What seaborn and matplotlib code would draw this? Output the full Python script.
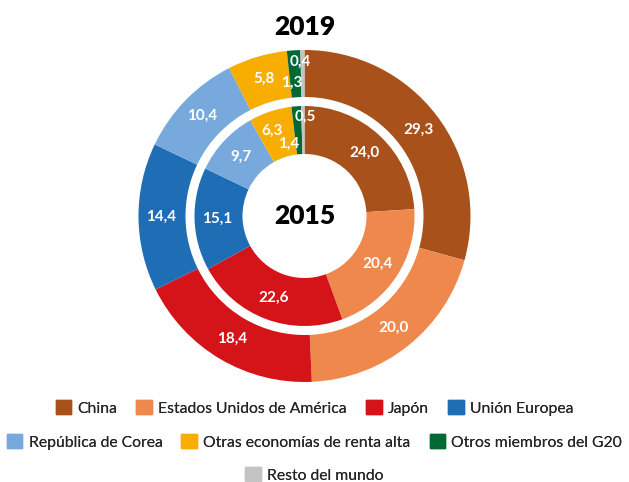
import matplotlib.pyplot as plt
import matplotlib.patches as mpatches
import seaborn as sns
import numpy as np

sns.set_theme(style="white")
plt.rcParams['font.family'] = ['Liberation Sans Narrow', 'Lato', 'DejaVu Sans']

# Data
categories = ["China", "Estados Unidos de América", "Japón", "Unión Europea",
              "República de Corea", "Otras economías de renta alta",
              "Otros miembros del G20", "Resto del mundo"]
values_2019 = [29.3, 20.0, 18.4, 14.4, 10.4, 5.8, 1.3, 0.4]
values_2015 = [24.0, 20.4, 22.6, 15.1, 9.7, 6.3, 1.4, 0.5]
colors = sns.color_palette(["#A8511A", "#EE884D", "#D5141A", "#1E6DB5",
                            "#78A9DD", "#F8AE00", "#006934", "#C4C4C4"])

W, H = 629, 482
fig = plt.figure(figsize=(W / 100, H / 100), dpi=100)
ax = fig.add_axes([0, 0, 1, 1])

cx, cy = 304.5, H - 216
r_out, w_out = 166, 47
r_in, w_in = 110, 48

ax.pie(values_2019, radius=r_out, center=(cx, cy), startangle=90, counterclock=False,
       colors=colors, wedgeprops=dict(width=w_out, edgecolor="none"), frame=True)
ax.pie(values_2015, radius=r_in, center=(cx, cy), startangle=90, counterclock=False,
       colors=colors, wedgeprops=dict(width=w_in, edgecolor="none"), frame=True)


def add_labels(vals, r_mid, special):
    cum = 0
    for i, v in enumerate(vals):
        mid = cum + v / 2
        cum += v
        ang = np.deg2rad(90 - mid * 3.6)
        r, dx, dy = special.get(i, (r_mid, 0, 0))
        x = cx + r * np.cos(ang) + dx
        y = cy + r * np.sin(ang) + dy
        ax.text(x, y, f"{v:.1f}".replace(".", ","), color="white", fontsize=11,
                fontweight="bold", ha="center", va="center")


add_labels(values_2019, 143, {6: (133, -4, 0), 7: (154, -2, 0)})
add_labels(values_2015, 87, {5: (87, -5, 3), 6: (74, -10, -2), 7: (99, 2, 0)})

ax.text(cx, H - 27, "2019", fontsize=19, fontweight="heavy", ha="center", va="center", color="black")
ax.text(cx, cy, "2015", fontsize=19, fontweight="heavy", ha="center", va="center", color="black")

ax.set_xlim(0, W)
ax.set_ylim(0, H)
ax.set_aspect("equal")
ax.axis("off")

# Legend rows
rows = [(range(0, 4), 408), (range(4, 7), 442), (range(7, 8), 475)]
for idx, ypix in rows:
    handles = [mpatches.Patch(color=colors[i], label=categories[i]) for i in idx]
    leg = fig.legend(handles=handles, loc="center", bbox_to_anchor=(0.5, 1 - ypix / H),
                     ncol=len(handles), frameon=False, fontsize=11.3,
                     handlelength=1.0, handleheight=1.0, handletextpad=0.4,
                     columnspacing=1.2, borderpad=0)
    fig.add_artist(leg)

fig.savefig("out.png", dpi=100)
